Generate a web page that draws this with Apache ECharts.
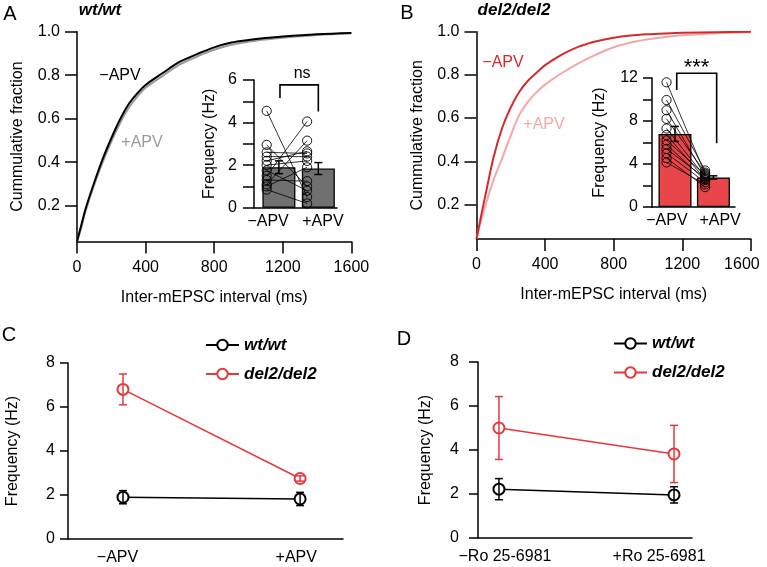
<!DOCTYPE html>
<html><head><meta charset="utf-8">
<script src="https://cdn.jsdelivr.net/npm/echarts@6/dist/echarts.min.js"></script>
<style>html,body{margin:0;padding:0;background:#fff}#c{width:767px;height:567px}</style>
</head><body><div id="c"></div>
<script>
// ---------------- data ----------------
const intervalsMs = [0,25,50,100,150,200,250,300,350,400,500,600,700,800,900,1000,1100,1200,1400,1600];
const cdfWtMinusApv  = [0.035,0.11,0.185,0.305,0.415,0.51,0.595,0.665,0.715,0.755,0.81,0.862,0.897,0.928,0.95,0.962,0.971,0.978,0.988,0.994];
const cdfWtPlusApv   = [0.035,0.10,0.175,0.295,0.40,0.495,0.578,0.648,0.70,0.742,0.797,0.85,0.886,0.917,0.94,0.954,0.964,0.972,0.985,0.993];
const cdfDelMinusApv = [0.04,0.14,0.235,0.42,0.555,0.65,0.722,0.773,0.81,0.845,0.895,0.932,0.956,0.972,0.982,0.988,0.992,0.995,0.998,1.0];
const cdfDelPlusApv  = [0.04,0.12,0.19,0.315,0.415,0.52,0.615,0.675,0.72,0.755,0.81,0.856,0.895,0.928,0.95,0.965,0.976,0.984,0.993,0.998];
const cdfTicks = [0.2,0.4,0.6,0.8,1.0];

const apvCats = ['\u2212APV', '+APV'];
const roCats = ['\u2212Ro 25-6981', '+Ro 25-6981'];
const seriesNames = ['wt/wt', 'del2/del2'];

const wtMinusApvCells  = [4.55,2.95,2.6,2.4,2.2,2.0,1.75,1.5,1.3,1.1,1.0,0.85];
const wtPlusApvCells   = [0.5,1.0,2.55,2.4,2.65,2.2,0.8,4.05,1.25,3.15,1.9,0.2];
const delMinusApvCells = [11.6,9.95,9.0,8.2,7.3,6.7,6.2,5.8,5.4,5.0,4.55,4.15];
const delPlusApvCells  = [3.1,3.4,2.9,3.2,2.8,2.6,3.0,2.5,2.7,2.3,1.85,2.1];

const wtApvMean  = [1.9, 1.84];  const wtApvSem  = [0.3, 0.28];
const delApvMean = [6.8, 2.75];  const delApvSem = [0.7, 0.15];
const cWtMean  = [1.9, 1.82];  const cWtSem  = [0.3, 0.3];
const cDelMean = [6.8, 2.75];  const cDelSem = [0.7, 0.12];
const dWtMean  = [2.22, 1.96]; const dWtSem  = [0.48, 0.37];
const dDelMean = [5.0, 3.82];  const dDelSem = [1.43, 1.3];

// ---------------- layout / style ----------------
const F = "'Liberation Sans', Arial, Helvetica, sans-serif";
const RED = '#e5383b', DARKRED = '#d42a2c', LIGHTRED = '#f3a7a8', GRAY = '#9a9a9a';
const G = [
  {left:77,   top:31.7, width:274.4, height:209.8},  // A main
  {left:254,  top:80,   width:83,    height:127.7},  // A inset
  {left:476.5,top:31.7, width:274.4, height:207.3},  // B main
  {left:652,  top:78,   width:83,    height:129},    // B inset
  {left:68,   top:363,  width:275,   height:176},    // C
  {left:478,  top:362,  width:214,   height:176}     // D
];
const LA = {barX:[30,77.5], dotX:[15.3,64], labelX:[17,83]};
const LB = {barX:[27.7,74], dotX:[17.5,64], labelX:[18,82]};
const LC = {ptX:[20,84.4], labelX:[18,83]};
const LD = {ptX:[9.8,91.6], labelX:[12.6,84.6]};
const bracketA = {x1:31.3, x2:77.5, top:5.77, leftEnd:5.15, rightEnd:4.52, textX:58, textY:6.29, text:'ns', size:16};
const bracketB = {x1:29.8, x2:77.9, top:12.44, leftEnd:10.88, rightEnd:5.93, textX:53.6, textY:12.9, text:'***', size:22};

function valueY(i, o) {
  return Object.assign({
    type:'value', gridIndex:i, splitLine:{show:false},
    axisLine:{show:true, onZero:false, lineStyle:{color:'#000', width:1.5}},
    axisTick:{show:true, length:11, lineStyle:{color:'#000', width:1.5}},
    axisLabel:{color:'#000', fontSize:16, fontFamily:F, margin:5},
    nameLocation:'middle', nameTextStyle:{color:'#000', fontSize:16, fontFamily:F}
  }, o);
}
function catX(i, L, cats, margin) {
  return {
    type:'value', gridIndex:i, min:0, max:100, splitLine:{show:false},
    axisLine:{show:true, onZero:false, lineStyle:{color:'#000', width:1.5}},
    axisTick:{show:false},
    axisLabel:{customValues:L.labelX, formatter:v => cats[L.labelX.indexOf(v)] || '',
      color:'#000', fontSize:16, fontFamily:F, margin}
  };
}

function pairRender(dotX) {
  return (p, api) => {
    const a = api.coord([dotX[0], api.value(0)]);
    const b = api.coord([dotX[1], api.value(1)]);
    const st = {stroke:'#000', lineWidth:0.9, fill:null};
    return {type:'group', children:[
      {type:'line', shape:{x1:a[0],y1:a[1],x2:b[0],y2:b[1]}, style:{stroke:'#000', lineWidth:0.8}},
      {type:'circle', shape:{cx:a[0],cy:a[1],r:4.6}, style:st},
      {type:'circle', shape:{cx:b[0],cy:b[1],r:4.6}, style:st}
    ]};
  };
}
function errRender(color, cap, lw) {
  return (p, api) => {
    const x = api.value(0), m = api.value(1), s = api.value(2);
    const t = api.coord([x, m + s]), b = api.coord([x, m - s]);
    const st = {stroke:color, lineWidth:lw};
    return {type:'group', children:[
      {type:'line', shape:{x1:t[0],y1:t[1],x2:b[0],y2:b[1]}, style:st},
      {type:'line', shape:{x1:t[0]-cap,y1:t[1],x2:t[0]+cap,y2:t[1]}, style:st},
      {type:'line', shape:{x1:b[0]-cap,y1:b[1],x2:b[0]+cap,y2:b[1]}, style:st}
    ]};
  };
}
function bracketRender(br) {
  return (p, api) => {
    const tl = api.coord([br.x1, br.top]), tr = api.coord([br.x2, br.top]);
    const bl = api.coord([br.x1, br.leftEnd]), brr = api.coord([br.x2, br.rightEnd]);
    const tp = api.coord([br.textX, br.textY]);
    return {type:'group', children:[
      {type:'polyline', shape:{points:[bl, tl, tr, brr]}, style:{stroke:'#000', lineWidth:1.6, fill:null}},
      {type:'text', x:tp[0], y:tp[1], style:{text:br.text, fontSize:br.size, fontFamily:F, fill:'#000',
        align:'center', verticalAlign:'middle', textAlign:'center', textVerticalAlign:'middle'}}
    ]};
  };
}
function insetSeries(ax, means, sems, minus, plus, barColor, L, br) {
  return [
    {type:'bar', xAxisIndex:ax, yAxisIndex:ax, barWidth:33, data:means.map((m,i)=>[L.barX[i], m]),
      itemStyle:{color:barColor, borderColor:'#000', borderWidth:1.3}, z:2},
    {type:'custom', xAxisIndex:ax, yAxisIndex:ax, data:minus.map((v,i)=>[v, plus[i]]), renderItem:pairRender(L.dotX), z:3},
    {type:'custom', xAxisIndex:ax, yAxisIndex:ax, data:means.map((m,i)=>[L.barX[i], m, sems[i]]), renderItem:errRender('#000', 4, 1.5), z:4},
    {type:'custom', xAxisIndex:ax, yAxisIndex:ax, data:[[br.x1, br.top]], renderItem:bracketRender(br), z:4}
  ];
}
function cdfLine(ax, ys, color, z) {
  return {type:'line', xAxisIndex:ax, yAxisIndex:ax, showSymbol:false, symbol:'none', smooth:0.35,
    data:intervalsMs.map((t,i)=>[t, ys[i]]), lineStyle:{color, width:2}, z};
}
function groupSeries(ax, L, wtM, wtS, delM, delS) {
  return [
    {type:'line', name:seriesNames[0], xAxisIndex:ax, yAxisIndex:ax, data:wtM.map((m,i)=>[L.ptX[i], m]),
      symbol:'emptyCircle', symbolSize:11, color:'#000', lineStyle:{color:'#000', width:1.5},
      itemStyle:{color:'#000', borderColor:'#000', borderWidth:1.6}, z:3},
    {type:'line', name:seriesNames[1], xAxisIndex:ax, yAxisIndex:ax, data:delM.map((m,i)=>[L.ptX[i], m]),
      symbol:'emptyCircle', symbolSize:11, color:RED, lineStyle:{color:RED, width:1.5},
      itemStyle:{color:RED, borderColor:RED, borderWidth:1.6}, z:3},
    {type:'custom', xAxisIndex:ax, yAxisIndex:ax, data:wtM.map((m,i)=>[L.ptX[i], m, wtS[i]]), renderItem:errRender('#000', 4, 1.5), z:5},
    {type:'custom', xAxisIndex:ax, yAxisIndex:ax, data:delM.map((m,i)=>[L.ptX[i], m, delS[i]]), renderItem:errRender(RED, 4, 1.5), z:5}
  ];
}
function txt(x, y, text, o) {
  return {type:'text', x, y, style:Object.assign({text, fontSize:16, fontFamily:F, fill:'#000',
    align:'center', verticalAlign:'middle', textAlign:'center', textVerticalAlign:'middle'}, o || {})};
}
const cdfAxisX = (i, shiftLast) => ({type:'value', gridIndex:i, min:0, max:1600, interval:400, splitLine:{show:false},
  axisLine:{show:true, onZero:false, lineStyle:{color:'#000', width:1.5}},
  axisTick:{show:true, length:12, lineStyle:{color:'#000', width:1.5}},
  axisLabel:{formatter:v => (shiftLast && v === 1600) ? '{m|' + v + '}' : String(v),
    rich:{m:{fontSize:16, fontFamily:F, color:'#000', padding:[0, 18, 0, 0]}},
    color:'#000', fontSize:16, fontFamily:F, margin:18},
  name:'Inter-mEPSC interval (ms)', nameLocation:'middle', nameGap:48,
  nameTextStyle:{color:'#000', fontSize:16, fontFamily:F}});
const cdfAxisY = (i, min) => valueY(i, {min, max:1, name:'Cummulative fraction', nameGap:51,
  axisTick:{show:true, length:12, customValues:cdfTicks, lineStyle:{color:'#000', width:1.5}},
  axisLabel:{customValues:cdfTicks, formatter:v=>v.toFixed(1), color:'#000', fontSize:16, fontFamily:F, margin:17}});

const legendBase = {orient:'vertical', itemWidth:33, itemHeight:13, itemGap:12, data:seriesNames,
  selectedMode:false, textStyle:{color:'#000', fontSize:17, fontFamily:F, fontWeight:'bold', fontStyle:'italic'}, padding:0};

const option = {
  animation:false,
  backgroundColor:'#fff',
  grid: G.map(g => Object.assign({containLabel:false, outerBoundsMode:'none'}, g)),
  xAxis: [
    cdfAxisX(0, false),
    catX(1, LA, apvCats, 6),
    cdfAxisX(2, true),
    catX(3, LB, apvCats, 6),
    catX(4, LC, apvCats, 11),
    catX(5, LD, roCats, 11)
  ],
  yAxis: [
    cdfAxisY(0, 0.035),
    valueY(1, {min:0, max:6, interval:1, name:'Frequency (Hz)', nameGap:36,
      axisLabel:{formatter:v => v % 2 === 0 ? String(v) : '', color:'#000', fontSize:16, fontFamily:F, margin:17}}),
    cdfAxisY(2, 0.04),
    valueY(3, {min:0, max:12, interval:2, name:'Frequency (Hz)', nameGap:44,
      axisTick:{show:true, length:9, lineStyle:{color:'#000', width:1.5}},
      axisLabel:{formatter:v => v % 4 === 0 ? String(v) : '', color:'#000', fontSize:16, fontFamily:F, margin:14}}),
    valueY(4, {min:0, max:8, interval:2, name:'Frequency (Hz)', nameGap:47,
      axisTick:{show:true, length:8, lineStyle:{color:'#000', width:1.5}}, axisLabel:{color:'#000', fontSize:16, fontFamily:F, margin:13}}),
    valueY(5, {min:0, max:8, interval:2, name:'Frequency (Hz)', nameGap:44,
      axisTick:{show:true, length:9, lineStyle:{color:'#000', width:1.5}}, axisLabel:{color:'#000', fontSize:16, fontFamily:F, margin:19}})
  ],
  legend: [
    Object.assign({left:205, top:336.5}, legendBase),
    Object.assign({left:613, top:335}, legendBase)
  ],
  series: [
    cdfLine(0, cdfWtPlusApv, GRAY, 2),
    cdfLine(0, cdfWtMinusApv, '#000', 3),
    ...insetSeries(1, wtApvMean, wtApvSem, wtMinusApvCells, wtPlusApvCells, '#707070', LA, bracketA),
    cdfLine(2, cdfDelPlusApv, LIGHTRED, 2),
    cdfLine(2, cdfDelMinusApv, DARKRED, 3),
    ...insetSeries(3, delApvMean, delApvSem, delMinusApvCells, delPlusApvCells, '#e8464a', LB, bracketB),
    ...groupSeries(4, LC, cWtMean, cWtSem, cDelMean, cDelSem),
    ...groupSeries(5, LD, dWtMean, dWtSem, dDelMean, dDelSem)
  ],
  graphic: [
    txt(10, 14, 'A', {fontSize:20}),
    txt(407, 13, 'B', {fontSize:20}),
    txt(9, 335, 'C', {fontSize:20}),
    txt(404, 339, 'D', {fontSize:20}),
    txt(100, 10, 'wt/wt', {fontSize:17, fontWeight:'bold', fontStyle:'italic'}),
    txt(514, 10, 'del2/del2', {fontSize:17, fontWeight:'bold', fontStyle:'italic'}),
    txt(120, 76, apvCats[0], {fill:'#000'}),
    txt(142, 143, apvCats[1], {fill:GRAY}),
    txt(503, 63, apvCats[0], {fill:DARKRED}),
    txt(544, 125, apvCats[1], {fill:LIGHTRED})
  ]
};
const chart = echarts.init(document.getElementById('c'), null, {renderer:'canvas'});
chart.setOption(option);
</script>
</body></html>
